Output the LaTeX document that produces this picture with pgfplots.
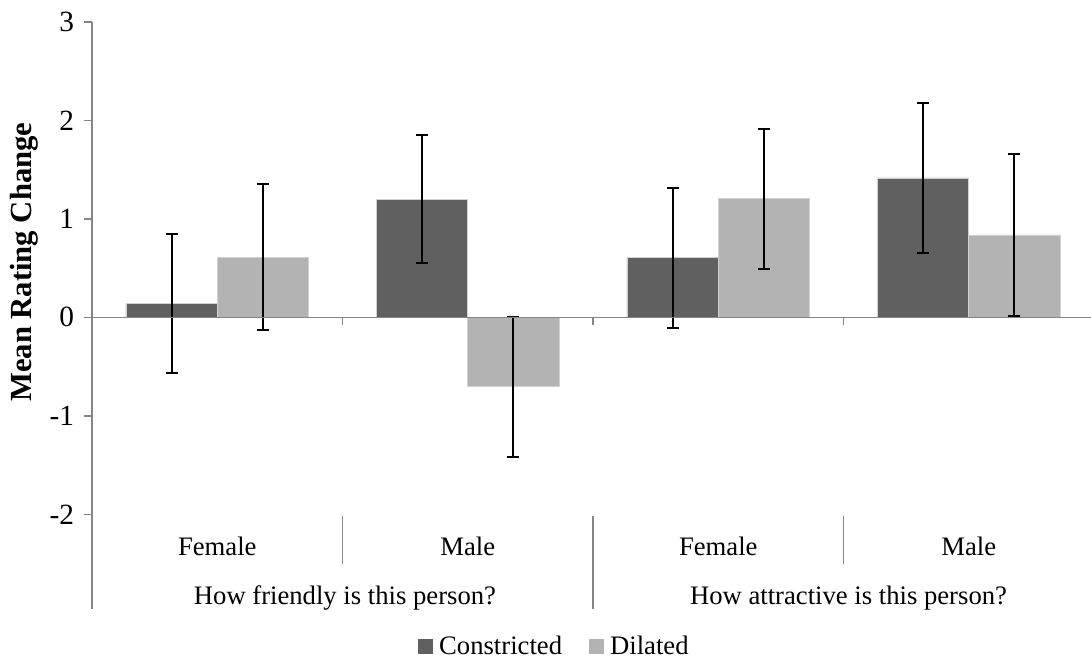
\documentclass[border=0pt]{standalone}
\usepackage{fontspec}
\setmainfont{Liberation Serif}
\usepackage{pgfplots}
\pgfplotsset{compat=1.18}
\newcommand\fs{\fontsize{20}{24}\selectfont}
\newcommand\fst{\fontsize{22}{26}\selectfont}
\newcommand\fsl{\fontsize{23}{27}\selectfont}
\definecolor{cdark}{RGB}{96,96,96}
\definecolor{clight}{RGB}{179,179,179}
\definecolor{axgray}{RGB}{134,134,134}
\begin{document}
\begin{tikzpicture}
\useasboundingbox (0,0) rectangle (818.25pt,495.75pt);
\begin{axis}[
  at={(69pt,39pt)}, anchor=south west,
  scale only axis, width=749.25pt, height=440.4pt,
  xmin=0, xmax=3.988, ymin=-2.961, ymax=3,
  axis x line=none, axis y line*=left,
  y axis line style={axgray, line width=1.2pt},
  ytick={-2,-1,0,1,2,3}, xtick=\empty,
  ytick style={axgray, line width=1.2pt},
  tick align=outside, major tick length=6pt,
  yticklabel style={font=\fst, xshift=-4pt, /pgf/number format/assume math mode=true},
  clip=false,
  ybar=0pt, bar width=68.5pt,
  legend columns=2,
  legend style={at={(0.463,-0.063)}, anchor=center, draw=none, fill=none,
    font=\fs, /tikz/every even column/.append style={column sep=18pt}},
]
\addplot[fill=cdark, draw=white!82!black, line width=0.5pt,
  legend image code/.code={\fill[cdark] (0pt,-5.25pt) rectangle (10.5pt,5.25pt); \path (13.5pt,0pt);},
  error bars/.cd, y dir=both, y explicit,
  error bar style={black, line width=1.5pt},
  error mark options={rotate=90, black, mark size=4.5pt, line width=1.5pt}]
  coordinates {(0.5,0.14) +- (0,0.71) (1.5,1.20) +- (0,0.65) (2.5,0.605) +- (0,0.71) (3.5,1.415) +- (0,0.76)};
\addplot[fill=clight, draw=white!82!black, line width=0.5pt,
  legend image code/.code={\fill[clight] (0pt,-5.25pt) rectangle (10.5pt,5.25pt); \path (13.5pt,0pt);},
  error bars/.cd, y dir=both, y explicit,
  error bar style={black, line width=1.5pt},
  error mark options={rotate=90, black, mark size=4.5pt, line width=1.5pt}]
  coordinates {(0.5,0.61) +- (0,0.74) (1.5,-0.705) +- (0,0.71) (2.5,1.205) +- (0,0.71) (3.5,0.837) +- (0,0.82)};
\legend{Constricted, Dilated}
\draw[axgray, line width=1.2pt] (axis cs:0,0) -- (axis cs:3.988,0);
\draw[axgray, line width=1.2pt] (axis cs:1,0) -- (axis cs:1,-0.08);
\draw[axgray, line width=1.2pt] (axis cs:2,0) -- (axis cs:2,-0.08);
\draw[axgray, line width=1.2pt] (axis cs:3,0) -- (axis cs:3,-0.08);
\draw[axgray, line width=1.2pt] (axis cs:1,-2.02) -- (axis cs:1,-2.5);
\draw[axgray, line width=1.2pt] (axis cs:3,-2.02) -- (axis cs:3,-2.5);
\draw[axgray, line width=1.2pt] (axis cs:2,-2.02) -- (axis cs:2,-2.961);
\node[font=\fs] at (axis cs:0.5,-2.322) {Female};
\node[font=\fs] at (axis cs:1.5,-2.322) {Male};
\node[font=\fs] at (axis cs:2.5,-2.322) {Female};
\node[font=\fs] at (axis cs:3.5,-2.322) {Male};
\node[font=\fs] at (axis cs:1.01,-2.85) {How friendly is this person?};
\node[font=\fs] at (axis cs:3.02,-2.85) {How attractive is this person?};
\node[rotate=90, font=\fsl\bfseries] at (axis cs:-0.271,0.56) {Mean Rating Change};
\end{axis}
\end{tikzpicture}
\end{document}
